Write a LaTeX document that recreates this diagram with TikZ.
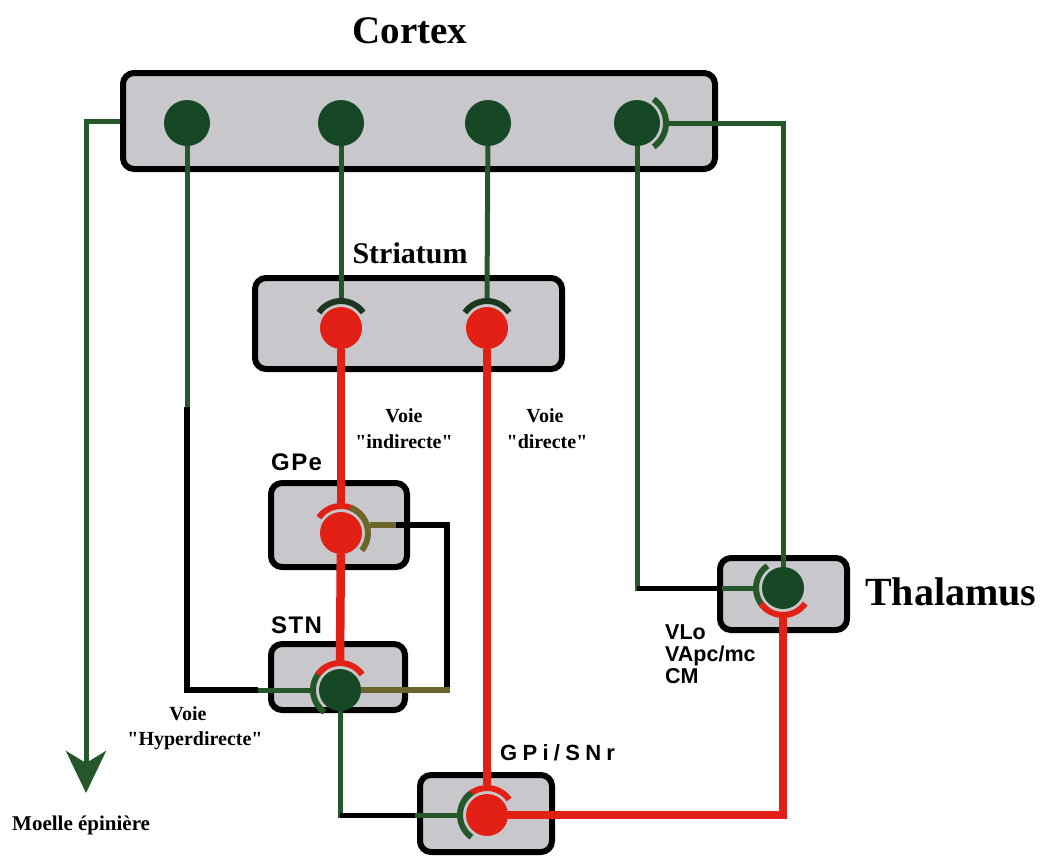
\documentclass[tikz,border=0pt]{standalone}
\usepackage{fontspec}
\setmainfont{Liberation Serif}
\newfontfamily\voiefont{Liberation Serif}
\newfontfamily\labelsans{Liberation Sans}
\usetikzlibrary{arrows.meta,calc}
\pgfdeclarelayer{backlayer}
\pgfdeclarelayer{boxlayer}
\pgfdeclarelayer{linelayer}
\pgfsetlayers{backlayer,boxlayer,linelayer,main}
\definecolor{nrgreen}{RGB}{22,72,38}
\definecolor{lngreen}{RGB}{36,88,42}
\definecolor{nrred}{RGB}{226,32,22}
\definecolor{olv}{RGB}{108,102,44}
\definecolor{boxgray}{RGB}{200,200,204}
\definecolor{dkterm}{RGB}{30,55,32}
\newcommand\synapse[4]{%
  \draw[termarc,draw=#4] ($(#1)+({#2-55}:#3)$) arc[start angle={#2-55}, end angle={#2+55}, radius=#3];}
\newcommand\dq{\char34\relax}
\begin{document}
\begin{tikzpicture}[x=1pt,y=-1pt,
  region/.style={draw=black, line width=6pt, fill=boxgray, rounded corners=11pt, inner sep=0pt},
  gneuron/.style={circle, fill=nrgreen, inner sep=0pt, draw=none},
  rneuron/.style={circle, fill=nrred, inner sep=0pt, draw=none},
  gline/.style={draw=lngreen, line width=5pt},
  rline/.style={draw=nrred, line width=8.5pt},
  kline/.style={draw=black, line width=5.5pt},
  oline/.style={draw=olv, line width=6pt},
  termarc/.style={line width=6pt, line cap=butt},
  sertitle/.style={font=\bfseries, inner sep=0pt, anchor=base},
  voie/.style={font=\voiefont\fontsize{20}{24}\selectfont\bfseries, inner sep=0pt, anchor=base},
  sanslab/.style={font=\labelsans\fontsize{24}{26}\selectfont\bfseries, inner sep=0pt, anchor=base west},
  thallab/.style={font=\labelsans\fontsize{21.5}{22}\selectfont\bfseries, inner sep=0pt, anchor=base west},
]
\useasboundingbox (0,0) rectangle (1040,860);
\begin{pgfonlayer}{backlayer}
\fill[white] (0,0) rectangle (1040,860);
\end{pgfonlayer}
% regions
\begin{pgfonlayer}{boxlayer}
\node[region, minimum width=592pt, minimum height=96pt] (cortex) at (419,121) {};
\node[region, minimum width=307pt, minimum height=91pt] (striatum) at (408.5,323.5) {};
\node[region, minimum width=136pt, minimum height=84pt] (gpe) at (339,525) {};
\node[region, minimum width=134pt, minimum height=66pt] (stn) at (338,677) {};
\node[region, minimum width=132pt, minimum height=77pt] (gpi) at (486,813.5) {};
\node[region, minimum width=127pt, minimum height=72pt] (thal) at (783.5,594) {};
\end{pgfonlayer}
% neurons
\node[gneuron, minimum size=46pt] (c1) at (187,123) {};
\node[gneuron, minimum size=46pt] (c2) at (341,123) {};
\node[gneuron, minimum size=46pt] (c3) at (488,123) {};
\node[gneuron, minimum size=46pt] (c4) at (637,123) {};
\node[rneuron, minimum size=42pt] (s1) at (341,328) {};
\node[rneuron, minimum size=42pt] (s2) at (487,328) {};
\node[rneuron, minimum size=42pt] (gp) at (341,533) {};
\node[gneuron, minimum size=42pt] (st) at (340,690) {};
\node[rneuron, minimum size=42pt] (gi) at (487,815) {};
\node[gneuron, minimum size=42pt] (th) at (783,588) {};
% terminal points
\coordinate (s1T) at ($(s1)+(-90:30)$);
\coordinate (s2T) at ($(s2)+(-90:30)$);
\coordinate (gpT) at ($(gp)+(-90:30)$);
\coordinate (gpR) at ($(gp)+(-15:30)$);
\coordinate (stT) at ($(st)+(-90:30)$);
\coordinate (stL) at ($(st)+(180:30)$);
\coordinate (giT) at ($(gi)+(-90:30)$);
\coordinate (giL) at ($(gi)+(180:30)$);
\coordinate (thL) at ($(th)+(180:30)$);
\coordinate (thB) at ($(th)+(90:30)$);
\coordinate (c4R) at ($(c4)+(0:32)$);
% corners
\coordinate (spA) at (86,121);
\coordinate (spine) at (86,793);
\coordinate (hd1) at (187,407);
\coordinate (hd2) at (187,690);
\coordinate (hd3) at (258,690);
\coordinate (lp1) at (447,690);
\coordinate (sg1) at (340,815);
\coordinate (sg2) at (415,815);
\coordinate (ct1) at (637,588);
\coordinate (ct2) at (722,588);
\coordinate (tc1) at (783,123);
\coordinate (gt1) at (783,815);
\begin{pgfonlayer}{linelayer}
% cortex to spinal cord
\draw[gline,-{Stealth[length=42pt,width=40pt,inset=12pt]}] (cortex.west) -- (spA) -- (spine);
% hyperdirect
\draw[gline] (c1) -- (hd1);
\draw[kline] (hd1) -- (hd2) -- (hd3);
\draw[gline] (hd3) -- (stL);
\synapse{st}{180}{27}{lngreen}
% cortex to striatum
\draw[gline] (c2) -- (s1T);
\draw[gline] (c3) -- (s2T);
\synapse{s1}{-90}{27}{dkterm}
\synapse{s2}{-90}{27}{dkterm}
% indirect
\draw[rline] (s1) -- (gpT);
\synapse{gp}{-90}{27}{nrred}
\draw[rline] (gp) -- (stT);
\synapse{st}{-90}{27}{nrred}
% direct
\draw[rline] (s2) -- (giT);
\synapse{gi}{-90}{27}{nrred}
% STN to GPe
\draw[kline, line width=6.5pt] ($(lp1)+(0,3)$) |- (gpR);
\draw[oline] (st) -- ($(lp1)+(3,0)$);
\draw[oline] ($(gpR)+(26,0)$) -- (gpR);
\synapse{gp}{-15}{27}{olv}
% STN to GPi
\draw[gline] (st) -- ($(sg1)+(0,2.5)$);
\draw[kline, line width=5pt] (sg1) -- (sg2);
\draw[gline] (sg2) -- (giL);
\synapse{gi}{180}{27}{lngreen}
% cortex to thalamus
\draw[gline] (c4) -- ($(ct1)+(0,2.5)$);
\draw[kline, line width=5pt] (ct1) -- (ct2);
\draw[gline] (ct2) -- (thL);
\synapse{th}{180}{27}{lngreen}
% thalamus to cortex
\draw[gline] (th) -- (tc1) -- (c4R);
\synapse{c4}{0}{29}{lngreen}
% GPi to thalamus
\draw[rline] (gi) -- (gt1) -- (thB);
\synapse{th}{90}{27}{nrred}
\end{pgfonlayer}
% labels
\node[sertitle, font=\fontsize{39}{44}\selectfont\bfseries] (tcortex) at (410,43) {Cortex};
\node[sertitle, font=\fontsize{30}{34}\selectfont\bfseries] (tstriatum) at (410,263) {Striatum};
\node[sertitle, font=\fontsize{40}{44}\selectfont\bfseries, anchor=base west] (tthal) at (865,605) {Thalamus};
\node[voie] (vi1) at (404,422) {Voie};
\node[voie] (vi2) at (404,448) {\dq indirecte\dq};
\node[voie] (vd1) at (545,422) {Voie};
\node[voie] (vd2) at (547,448) {\dq directe\dq};
\node[voie] (vh1) at (188,720) {Voie};
\node[voie] (vh2) at (195,745) {\dq Hyperdirecte\dq};
\node[voie, font=\voiefont\fontsize{21}{24}\selectfont\bfseries, anchor=base west] (tmoelle) at (12,830) {Moelle épinière};
\node[sanslab] (tgpe) at (271,470) {\addfontfeatures{LetterSpace=6}GPe};
\node[sanslab] (tstn) at (271,633) {\addfontfeatures{LetterSpace=6}STN};
\node[sanslab, font=\labelsans\fontsize{22}{24}\selectfont\bfseries] (tgpi) at (500,760) {\addfontfeatures{LetterSpace=24}GPi/SNr};
\node[thallab] (tvlo) at (665,639) {VLo};
\node[thallab] (tvapc) at (665,661) {VApc/mc};
\node[thallab] (tcm) at (665,683) {CM};
\end{tikzpicture}
\end{document}
